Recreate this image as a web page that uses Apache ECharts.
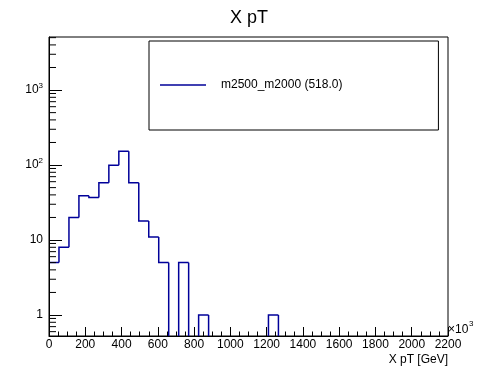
<!DOCTYPE html>
<html>
<head>
<meta charset="utf-8">
<script src="https://cdn.jsdelivr.net/npm/echarts@6/dist/echarts.min.js"></script>
<style>html,body{margin:0;padding:0;background:#fff;}#c{width:498px;height:374px;}</style>
</head>
<body>
<div id="c"></div>
<script>
// ---- data ----
var chartTitle = 'X pT';
var seriesName = 'm2500_m2000 (518.0)';
var binWidth = 55;            // GeV, 40 bins over 0..2200
var counts = [5, 8, 20, 39, 37, 58, 99, 153, 58, 18,
              11, 5, 0, 5, 0, 1, 0, 0, 0, 0,
              0, 0, 1, 0, 0, 0, 0, 0, 0, 0,
              0, 0, 0, 0, 0, 0, 0, 0, 0, 0];
var xMin = 0, xMax = 2200, xStep = 200;
var yMin = 0.525, yMax = 5100;
var xAxisName = 'X pT [GeV]';
var xScaleNote = '\u00d710';
var xScaleExp = '3';
var supDigits = {2: '2', 3: '3'};

// minor tick positions for the log axis (2..9 x decade)
var yMinorTicks = [];
for (var d = -1; d <= 3; d++) {
  for (var k = 2; k <= 9; k++) {
    var v = k * Math.pow(10, d);
    if (v > yMin && v < yMax) yMinorTicks.push(v);
  }
}

var histData = counts.map(function (c, i) {
  return [i * binWidth, (i + 1) * binWidth, c, i > 0 ? counts[i - 1] : 0];
});

var FONT = 'Liberation Sans, Arial, Helvetica, sans-serif';
var chart = echarts.init(document.getElementById('c'), null, {renderer: 'canvas'});

var option = {
  animation: false,
  backgroundColor: '#fff',
  title: {
    text: chartTitle, left: 'center', top: 4,
    textStyle: {fontFamily: FONT, fontSize: 18, fontWeight: 'normal', color: '#000'}
  },
  legend: {
    data: [{name: seriesName, icon: 'rect'}],
    left: 149, top: 41,
    orient: 'vertical',
    itemWidth: 46, itemHeight: 1.6,
    itemGap: 0,
    padding: [38, 96, 39, 11],
    borderColor: '#000', borderWidth: 1,
    textStyle: {fontFamily: FONT, fontSize: 12, color: '#000', padding: [0, 0, 0, 10]},
    selectedMode: false
  },
  grid: {
    left: 49, top: 37, width: 399, height: 299,
    show: true, borderColor: '#000', borderWidth: 1, backgroundColor: 'transparent'
  },
  xAxis: {
    type: 'value', min: xMin, max: xMax, interval: xStep, z: 5,
    name: xAxisName, nameLocation: 'end', nameGap: 0,
    nameTextStyle: {fontFamily: FONT, fontSize: 12, color: '#000', align: 'right', verticalAlign: 'top', padding: [18, 0, 0, 0]},
    axisLine: {lineStyle: {color: '#000', width: 1}},
    axisTick: {inside: true, length: 9, lineStyle: {color: '#000'}},
    minorTick: {show: true, splitNumber: 4, length: 4.5, lineStyle: {color: '#000'}},
    splitLine: {show: false},
    axisLabel: {fontFamily: FONT, fontSize: 12, color: '#000', margin: 3,
      formatter: function (v) { return String(v); }}
  },
  yAxis: {
    type: 'log', logBase: 10, min: yMin, max: yMax, z: 5,
    axisLine: {lineStyle: {color: '#000', width: 1}},
    axisTick: {inside: true, length: 13, lineStyle: {color: '#000'}},
    splitLine: {show: false},
    axisLabel: {
      fontFamily: FONT, fontSize: 12, color: '#000', margin: 6,
      showMinLabel: false, showMaxLabel: false,
      formatter: function (v) {
        var e = Math.round(Math.log10(v));
        if (Math.abs(Math.log10(v) - e) > 1e-6) return '';
        if (e <= 1) return String(Math.round(v));
        return '{b|10}{s|' + supDigits[e] + '}';
      },
      rich: {
        b: {fontFamily: FONT, fontSize: 12, color: '#000', lineHeight: 16},
        s: {fontFamily: FONT, fontSize: 8, color: '#000', lineHeight: 10, verticalAlign: 'top'}
      }
    }
  },
  graphic: [{
    type: 'text', left: 448, top: 324,
    style: {text: xScaleNote, font: '12px ' + FONT, fill: '#000'}
  }, {
    type: 'text', left: 469, top: 320,
    style: {text: xScaleExp, font: '8px ' + FONT, fill: '#000'}
  }],
  series: [{
    name: seriesName,
    type: 'custom',
    coordinateSystem: 'cartesian2d',
    clip: true, z: 2,
    itemStyle: {color: '#000099'},
    data: histData,
    renderItem: function (params, api) {
      var cs = params.coordSys;
      var bottom = cs.y + cs.height;
      function yOf(v) { return v > 0 ? api.coord([0, v])[1] : bottom; }
      var x0 = api.coord([api.value(0), 1])[0];
      var x1 = api.coord([api.value(1), 1])[0];
      var c = api.value(2), p = api.value(3);
      var pts = [[x0, yOf(p)], [x0, yOf(c)]];
      if (c > 0) pts.push([x1, yOf(c)]);
      return {
        type: 'polyline',
        shape: {points: pts},
        style: {stroke: '#000099', lineWidth: 1.5, fill: null}
      };
    }
  }, {
    name: 'yMinor',
    type: 'custom',
    coordinateSystem: 'cartesian2d',
    clip: false, z: 6, silent: true,
    data: yMinorTicks.map(function (v) { return [0, v]; }),
    renderItem: function (params, api) {
      var cs = params.coordSys;
      var y = api.coord([0, api.value(1)])[1];
      return {
        type: 'line',
        shape: {x1: cs.x, y1: y, x2: cs.x + 7, y2: y},
        style: {stroke: '#000', lineWidth: 1}
      };
    }
  }]
};
chart.setOption(option);
</script>
</body>
</html>
